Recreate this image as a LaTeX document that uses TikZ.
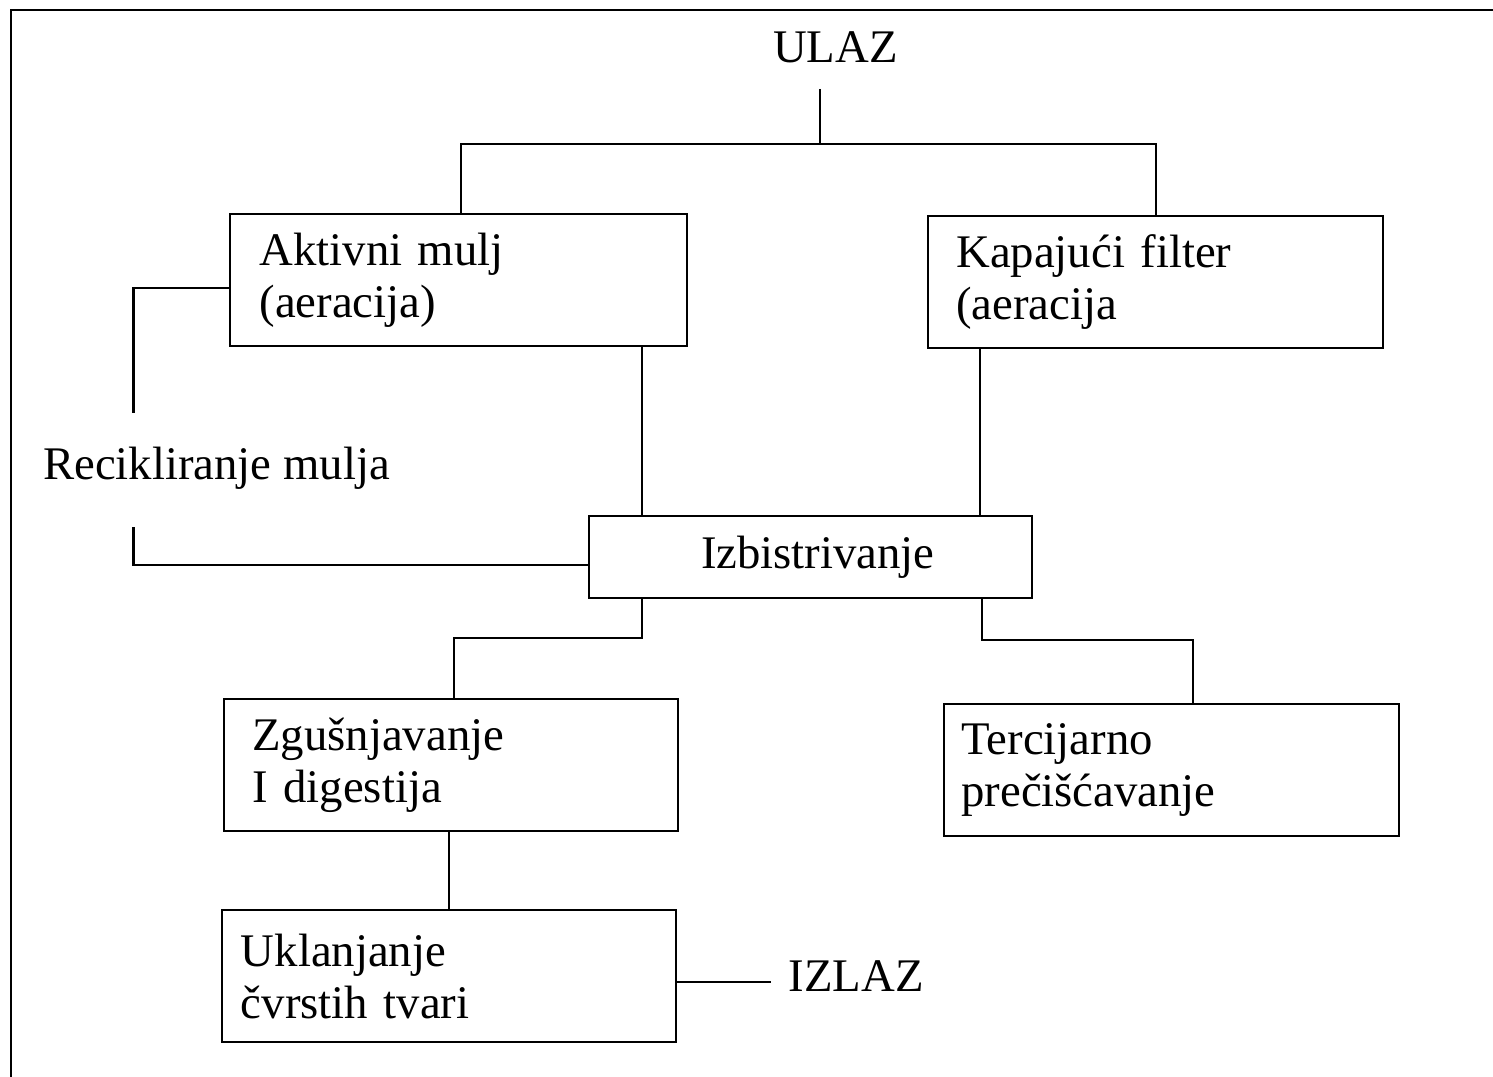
\documentclass[tikz,border=0pt]{standalone}
\usepackage{fontspec}
\setmainfont{Liberation Serif}
\usetikzlibrary{positioning}
\begin{document}
\begin{tikzpicture}[
					x = 0.1mm, y = -0.1mm,
					every node/.style = {font=\fontsize{13.3}{14.8}\selectfont},
					blok/.style = {draw, line width=0.6pt, anchor=north west, align=left, inner ysep=0pt},
					veza/.style = {line width=0.6pt},
					oznaka/.style = {inner sep=0pt}]

					\useasboundingbox (0,0) rectangle (1493,1077);
					\draw[line width=0.8pt] (11,1077) -- (11,10) -- (1493,10);

					% blokovi
					\node[blok, minimum width=45.64mm, minimum height=13.17mm, text width=39.8mm] (aktivni) at (229.3,213.3) {Aktivni mulj\\(aeracija)};
					\node[blok, minimum width=45.5mm, minimum height=13.23mm, text width=39.9mm] (kapajuci) at (927.3,215) {Kapajući filter\\(aeracija};
					\node[blok, minimum width=44.24mm, minimum height=8.23mm, text width=21.9mm] (izbistr) at (588.3,515) {Izbistrivanje};
					\node[blok, minimum width=45.4mm, minimum height=13.17mm, text width=39.8mm] (zgusnjavanje) at (223.3,698.3) {Zgušnjavanje\\I digestija};
					\node[blok, minimum width=45.5mm, minimum height=13.23mm, text width=42.1mm] (tercijarno) at (943.3,702.7) {Tercijarno\\prečišćavanje};
					\node[blok, minimum width=45.43mm, minimum height=13.2mm, text width=41.6mm] (uklanjanje) at (220.7,909) {Uklanjanje\\čvrstih tvari};

					% oznake
					\node[oznaka, anchor=base] (ulaz) at (835.5,62.7) {ULAZ};
					\node[oznaka, anchor=base west] (recikliranje) at (42.5,480) {Recikliranje mulja};
					\node[oznaka, anchor=base west] (izlaz) at (788,991.7) {IZLAZ};

					% veze
					\coordinate (ulazdolje) at (820,89);
					\coordinate (grananje) at (820,144.3);
					\draw[veza] (ulazdolje) -- (grananje);
					\draw[veza] (aktivni.north west) ++(231.4,0) |- (grananje);
					\draw[veza] (kapajuci.north west) ++(228.7,0) |- (grananje);

					\coordinate (recikgore) at (133.5,413.3);
					\coordinate (recikdolje) at (133.5,526.7);
					\draw[veza] (aktivni.north west) ++(0,75) -| (recikgore);
					\draw[veza] (izbistr.south west) ++(0,-34) -| (recikdolje);

					\path (aktivni.south west) ++(412.4,0) coordinate (aktivnidolje);
					\draw[veza] (aktivnidolje) -- (aktivnidolje |- izbistr.north);
					\path (kapajuci.south west) ++(52.7,0) coordinate (kapajucidolje);
					\draw[veza] (kapajucidolje) -- (kapajucidolje |- izbistr.north);

					\path (izbistr.south west) ++(53.4,0) coordinate (izbistrlijevo);
					\path (zgusnjavanje.north west) ++(230.7,0) coordinate (zgusnjavanjegore);
					\draw[veza] (izbistrlijevo) -- ++(0,39) -| (zgusnjavanjegore);
					\path (izbistr.south west) ++(394,0) coordinate (izbistrdesno);
					\path (tercijarno.north west) ++(249.4,0) coordinate (tercijarnogore);
					\draw[veza] (izbistrdesno) -- ++(0,40.4) -| (tercijarnogore);

					\path (zgusnjavanje.south west) ++(226,0) coordinate (zgusnjavanjedolje);
					\draw[veza] (zgusnjavanjedolje) -- (zgusnjavanjedolje |- uklanjanje.north);
					\coordinate (izlazlinija) at (771,981.7);
					\draw[veza] (uklanjanje.east |- izlazlinija) -- (izlazlinija);

				\end{tikzpicture}
\end{document}
